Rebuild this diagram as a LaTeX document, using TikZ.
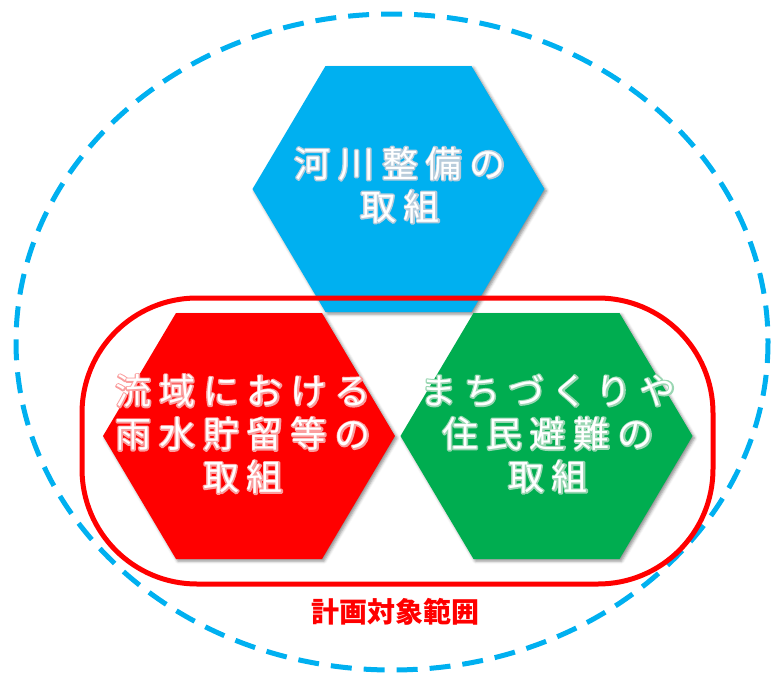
\documentclass[tikz,border=0pt]{standalone}
\usepackage{fontspec}
\newfontfamily\jp[LetterSpace=22]{Noto Sans CJK JP}
\newfontfamily\jplabel{Noto Sans CJK JP}
\usetikzlibrary{shadows.blur}
\definecolor{skyblue}{HTML}{00B0F0}
\definecolor{hexred}{HTML}{FF0000}
\definecolor{hexgreen}{HTML}{00AD50}
% one line of white text with a thin light outline behind it
\newcommand\halo[2]{\rlap{\special{pdf:literal direct 1 Tr 2.8 w 1 J 1 j #1 RG}#2\special{pdf:literal direct 0 Tr}}#2}
\tikzset{
  hexshape/.style={blur shadow={shadow xshift=2pt, shadow yshift=-2pt, shadow blur radius=3pt, shadow opacity=45}},
  hextext/.style={text=white, align=center, font=\jp\fontsize{36}{43}\selectfont, inner sep=0pt},
}
\begin{document}
\begin{tikzpicture}[x=1pt, y=-1pt]
\useasboundingbox (0,0) rectangle (771,675);
% dashed scope ellipse
\draw[skyblue, line width=5pt, dash pattern=on 21pt off 12pt] (392,342) ellipse [x radius=376, y radius=328];
% blue hexagon
\fill[skyblue, hexshape] (252.5,189) -- (325.5,66) -- (471.5,66) -- (544.5,189) -- (471.5,312) -- (325.5,312) -- cycle;
\node[hextext] (river) at (400,185) {\halo{0.72 0.80 0.86}{河川整備の}\\\halo{0.72 0.80 0.86}{取組}};
% plan range
\draw[hexred, line width=5pt, rounded corners=115pt] (82,298) rectangle (713,584);
% red hexagon
\fill[hexred, hexshape] (103,436) -- (176,313) -- (322,313) -- (395,436) -- (322,559) -- (176,559) -- cycle;
\node[hextext] (basin) at (243,434) {\halo{0.98 0.62 0.62}{流域における}\\\halo{0.98 0.62 0.62}{雨水貯留等の}\\\halo{0.98 0.62 0.62}{取組}};
% green hexagon
\fill[hexgreen, hexshape] (400.5,436) -- (473.5,313) -- (619.5,313) -- (692.5,436) -- (619.5,559) -- (473.5,559) -- cycle;
\node[hextext] (town) at (548,434) {\halo{0.60 0.84 0.70}{まちづくりや}\\\halo{0.60 0.84 0.70}{住民避難の}\\\halo{0.60 0.84 0.70}{取組}};
% label
\node[text=hexred, font=\jplabel\bfseries\fontsize{28}{30}\selectfont, inner sep=0pt] (scope) at (395,612) {計画対象範囲};
\end{tikzpicture}
\end{document}
